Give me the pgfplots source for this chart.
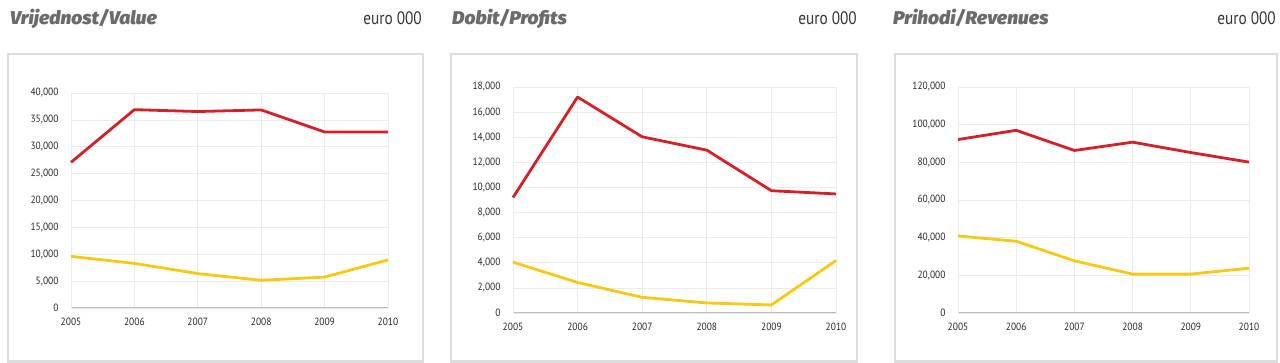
\documentclass[border=0pt]{standalone}
\usepackage{fontspec}
\setmainfont{PT Sans}
\newfontfamily\titlefont{Fira Sans}[BoldFont={* Black}, BoldItalicFont={* Black Italic}, FakeStretch=1.04]
\newfontfamily\eurofont{PT Sans}[FakeStretch=0.85]
\newfontfamily\tickfont{PT Sans}[FakeStretch=0.9]
\usepackage{pgfplots}
\pgfplotsset{compat=1.18}
\definecolor{cred}{HTML}{D42028}
\definecolor{cyel}{HTML}{F7C815}
\definecolor{tgray}{HTML}{6B6B6B}
\definecolor{boxgray}{HTML}{DDDDDD}
\definecolor{gridgray}{HTML}{EBEBEB}
\definecolor{axgray}{HTML}{BBBBBB}
\pgfplotsset{
  panel/.style={
    scale only axis,
    anchor=south west,
    axis x line*=bottom,
    axis y line*=left,
    x axis line style={axgray, line width=1pt, -},
    y axis line style={gridgray, line width=0.8pt, -},
    xmin=2005, xmax=2010, ymin=0,
    xtick={2005,2006,2007,2008,2009,2010},
    major tick length=0pt,
    grid=major,
    major grid style={gridgray, line width=0.7pt},
    /pgf/number format/assume math mode=true,
    tick label style={font=\tickfont\fontsize{10.5}{11}\selectfont, text=black!85},
    xticklabel style={/pgf/number format/fixed, /pgf/number format/1000 sep={}, yshift=-6pt},
    yticklabel style={/pgf/number format/fixed, /pgf/number format/1000 sep={,}, xshift=-9pt},
    scaled ticks=false,
    clip=false,
  },
  sred/.style={cred, line width=2.8pt, line join=round},
  syel/.style={cyel, line width=2.8pt, line join=round},
}
\begin{document}
\begin{tikzpicture}
\path[use as bounding box] (0,0) rectangle (1280pt,363pt);
% boxes
\draw[boxgray, line width=2.5pt] (8pt,1.5pt) rectangle (423pt,309pt);
\draw[boxgray, line width=2.5pt] (451pt,1.5pt) rectangle (857pt,309pt);
\draw[boxgray, line width=2.5pt] (895pt,1.5pt) rectangle (1277pt,309pt);
% titles
\node[anchor=base west, inner sep=0, text=tgray, font=\titlefont\bfseries\itshape\fontsize{18.5}{20}\selectfont] at (10pt,338pt) {Vrijednost/Value};
\node[anchor=base east, inner sep=0, text=black!80, font=\eurofont\fontsize{18}{20}\selectfont] at (422pt,338pt) {euro 000};
\node[anchor=base west, inner sep=0, text=tgray, font=\titlefont\bfseries\itshape\fontsize{18.5}{20}\selectfont] at (452pt,338pt) {Dobit/Profits};
\node[anchor=base east, inner sep=0, text=black!80, font=\eurofont\fontsize{18}{20}\selectfont] at (857pt,338pt) {euro 000};
\node[anchor=base west, inner sep=0, text=tgray, font=\titlefont\bfseries\itshape\fontsize{18.5}{20}\selectfont] at (893pt,338pt) {Prihodi/Revenues};
\node[anchor=base east, inner sep=0, text=black!80, font=\eurofont\fontsize{18}{20}\selectfont] at (1276pt,338pt) {euro 000};

\begin{axis}[panel, at={(71pt,55pt)}, width=317pt, height=215pt,
  ymax=40000, ytick={0,5000,...,40000}]
\addplot[sred] coordinates {(2005,27100) (2006,36900) (2007,36550) (2008,36850) (2009,32750) (2010,32750)};
\addplot[syel] coordinates {(2005,9600) (2006,8300) (2007,6400) (2008,5150) (2009,5750) (2010,8950)};
\end{axis}

\begin{axis}[panel, at={(513pt,50pt)}, width=323pt, height=226pt,
  ymax=18000, ytick={0,2000,...,18000}]
\addplot[sred] coordinates {(2005,9200) (2006,17200) (2007,14030) (2008,12970) (2009,9740) (2010,9480)};
\addplot[syel] coordinates {(2005,4050) (2006,2430) (2007,1250) (2008,800) (2009,640) (2010,4180)};
\end{axis}

\begin{axis}[panel, at={(958pt,50pt)}, width=291pt, height=226pt,
  ymax=120000, ytick={0,20000,...,120000}]
\addplot[sred] coordinates {(2005,92100) (2006,97000) (2007,86300) (2008,90700) (2009,85200) (2010,80100)};
\addplot[syel] coordinates {(2005,40900) (2006,38100) (2007,27700) (2008,20650) (2009,20650) (2010,23800)};
\end{axis}
\end{tikzpicture}
\end{document}
